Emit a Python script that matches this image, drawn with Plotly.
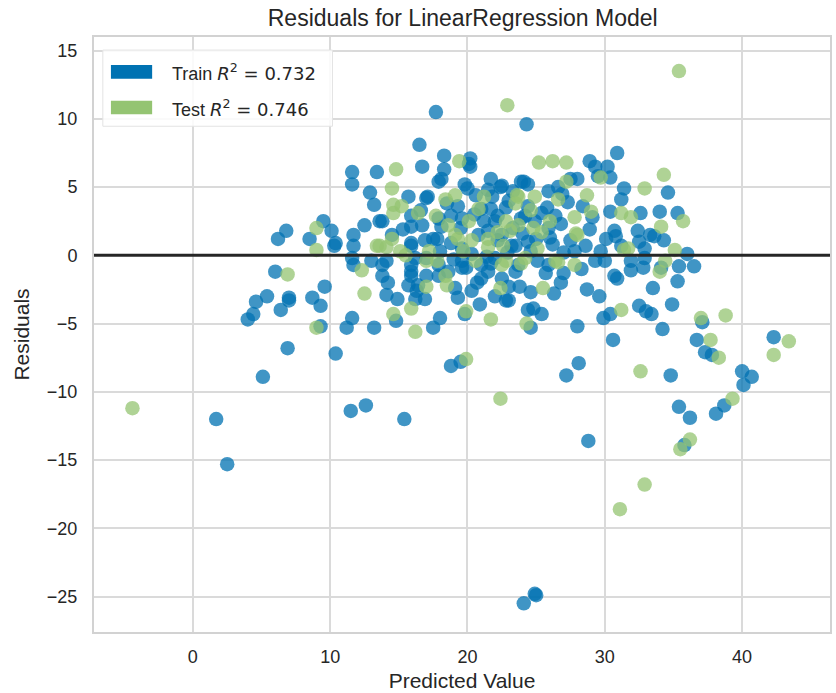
import plotly.graph_objects as go

# ---- data ----
train_pred = [1.7, 2.5, 5.1, 11.5, 12.6, 15.4, 6.8, 6.2, 9.5, 10.1, 8.5, 10.3, 6.0, 9.6, 5.4, 4.6, 7.0, 7.0, 8.7, 9.3,
              6.4, 4.4, 4.0, 9.3, 6.9, 10.4, 17.7, 24.3, 16.5, 18.3, 16.7, 18.3, 20.2, 20.2, 11.6, 13.4, 11.6, 17.9, 12.9, 15.7,
              17.1, 13.2, 12.5, 13.6, 10.4, 11.7, 11.7, 14.5, 15.9, 16.6, 17.8, 15.9, 13.8, 30.9, 28.9, 29.3, 30.2, 30.4, 27.5, 24.1,
              22.5, 31.4, 31.2, 34.6, 29.1, 30.4, 32.6, 34.0, 35.3, 30.7, 32.4, 33.3, 34.3, 30.1, 27.5, 28.6, 36.0, 36.5, 35.4, 32.9,
              30.7, 31.9, 29.3, 25.9, 35.3, 33.5, 34.9, 32.5, 33.0, 33.4, 34.2, 37.1, 36.7, 37.3, 37.8, 40.0, 40.7, 40.1, 42.3, 38.7,
              38.1, 35.4, 36.2, 35.8, 34.8, 30.6, 29.9, 30.4, 29.6, 28.7, 28.0, 28.1, 27.2, 28.8, 30.9, 34.1, 24.8, 25.4, 24.6, 23.8,
              24.6, 22.8, 30.0, 24.9, 25.0, 24.1, 18.8, 19.5, 11.6, 11.2, 13.2, 14.8, 17.5, 18.0, 19.8, 14.1, 14.9, 16.2, 16.9, 19.3,
              20.3, 20.9, 23.0, 21.0, 22.5, 15.9, 15.7, 16.4, 11.7, 13.8, 13.0, 24.4, 20.1, 18.1, 21.7, 22.4, 23.9, 17.0, 20.6, 21.0,
              21.7, 19.3, 18.8, 13.8, 15.9, 16.7, 18.1, 21.2, 22.2, 24.2, 24.9, 17.5, 15.9, 18.8, 19.6, 20.8, 22.2, 23.2, 24.4, 24.6,
              14.1, 15.9, 17.9, 19.9, 21.7, 23.7, 29.5, 28.0, 24.4, 25.9, 26.6, 27.3, 28.4, 24.4, 25.4, 26.4, 26.8, 25.9, 30.8, 32.5,
              33.6, 31.2, 32.9, 25.1, 31.9, 32.8, 25.7, 17.9, 19.6, 22.0, 23.9, 22.5, 23.5, 17.0, 19.6, 21.0, 15.9, 17.9, 11.6, 16.2,
              17.0, 16.3, 21.5, 23.5, 23.0, 19.1, 19.6, 22.0, 26.0, 27.0, 28.3, 26.8, 21.5, 23.0, 19.8,
              18.5, 19.5, 20.5, 21.5, 22.8, 23.3, 24.0, 25.0, 26.2, 27.8, 18.0, 19.0, 20.3, 21.4, 22.9, 20.0, 21.8, 23.3, 25.8, 26.9,
              28.9, 29.7, 27.0, 18.6, 16.9, 15.3, 14.2, 20.7, 22.0, 26.3]
train_resid = [-12.0, -15.3, -8.9, -11.4, -11.0, -12.0, 1.8, 1.2, 2.5, 1.8, 1.2, 0.7, -1.2, -2.3, -3.0, -3.4, -3.1, -3.3, -3.1, -3.7,
               -4.0, -4.3, -4.7, -5.2, -6.8, -7.2, 10.5, 9.6, 8.1, 7.3, 6.5, 6.3, 7.1, 6.5, 6.1, 6.1, 5.2, 5.4, 4.6, 4.3,
               4.3, 3.7, 2.2, 2.5, 0.9, 1.5, 0.7, 1.5, 2.9, 3.3, 1.2, 0.9, -1.5, 7.5, 6.9, 6.5, 6.5, 5.7, 5.6, 5.4,
               5.1, 4.9, 4.1, 4.6, 2.8, 3.2, 3.1, 3.2, 3.1, 1.8, 1.8, 1.5, 1.1, 1.2, 1.1, 0.7, 0.1, -0.8, -0.8, -0.2,
               -1.5, -1.1, -0.4, -0.7, -1.9, -2.4, -3.6, -3.7, -4.1, -4.3, -5.4, -4.9, -6.2, -7.1, -7.3, -8.5, -8.9, -9.5, -6.0, -11.0,
               -11.6, -11.1, -11.9, -13.9, -8.8, -6.2, -4.6, -4.3, -3.0, -2.5, -5.2, -7.9, -8.8, -13.6, -1.7, -0.9, -3.9, -4.3, -5.3, -2.3,
               -2.7, -3.3, -0.4, -24.8, -24.9, -25.5, -8.1, -7.8, -4.6, -5.3, -5.3, -4.8, -5.3, -4.6, -4.3, -2.9, -3.2, -3.2, -3.2, -3.1,
               -2.6, -3.6, -3.3, -1.7, -1.7, -1.5, -2.2, -2.2, -0.7, -0.7, -0.4, -4.0, 6.7, 5.6, 5.6, 5.0, 5.4, 4.2, 4.4, 3.4,
               3.4, 3.6, 2.9, 2.5, 2.1, 2.2, 2.1, 2.5, 2.9, 2.9, 2.5, 1.2, 0.7, 0.9, 0.5, 1.5, 1.1, 0.7, 1.0, 0.3,
               -0.4, -0.7, -0.7, -0.9, -0.6, -0.7, 5.8, 5.6, 5.2, 4.7, 5.0, 3.9, 3.6, 3.6, 3.1, 2.9, 2.3, 2.0, 1.4, 1.0,
               1.4, 0.7, 0.5, -0.4, -0.4, -0.9, -1.3, 2.7, 2.7, 2.5, 2.7, 1.5, 0.7, -0.2, -0.4, -0.7, -1.2, -1.5, -0.2, -0.2,
               -1.5, -2.6, -1.2, -1.2, -2.3, -2.4, -0.9, -0.2, 1.3, 0.2, -1.0, -2.0, 4.8, 4.0, 5.2,
               3.8, 2.0, 3.0, 1.8, 3.5, 2.0, 1.6, 1.2, 0.8, 0.3, 0.3, -0.3, 0.1, -0.1, 0.2, 4.9, 4.3, 4.7, 3.5, 4.5,
               1.9, 0.3, -1.3, -1.2, 1.1, 1.9, -2.0, -2.0, -3.0, -2.8]

test_pred = [-4.4, 9.0, 9.0, 6.9, 9.0, 22.9, 19.4, 14.8, 14.5, 14.6, 15.2, 14.6, 13.4, 15.1, 12.3, 35.4, 25.2, 26.2, 27.2, 34.3,
             32.9, 29.7, 28.7, 23.6, 24.9, 31.2, 31.9, 34.1, 35.7, 27.9, 35.1, 31.4, 27.8, 34.0, 26.4, 43.4, 42.3, 38.8, 37.0, 37.7,
             38.3, 39.3, 36.2, 35.5, 32.9, 31.1, 32.6, 31.2, 25.5, 24.3, 22.4, 26.6, 12.5, 14.6, 15.9, 16.2, 19.9, 21.7, 19.9, 17.0,
             18.5, 22.4, 18.4, 19.1, 21.2, 23.7, 23.5, 16.4, 17.7, 20.1, 22.8, 23.7, 19.3, 20.3, 21.5, 22.2, 23.1, 21.5, 22.6, 14.5,
             14.1, 17.0, 17.8, 20.6, 22.8, 15.5, 27.2, 26.6, 27.8, 28.0, 25.4, 24.8, 25.1, 31.7, 34.4, 18.6, 19.1, 22.5, 13.6, 17.2,
             18.4, 24.2, 20.8, 24.6, 26.0, 19.7, 23.9, 29.0]
test_resid = [-11.2, 2.0, 0.4, -1.4, -5.3, 11.0, 6.9, 6.3, 4.9, 3.7, 3.6, 3.1, 0.7, 0.3, -1.1, 13.5, 6.8, 6.9, 6.8, 5.9,
              4.9, 5.7, 4.4, 4.4, 4.3, 3.1, 2.8, 2.1, 2.5, 1.6, 0.4, 0.4, -0.7, -1.2, -0.4, -6.3, -7.3, -4.4, -4.6, -6.2,
              -7.5, -10.5, -13.5, -14.2, -16.8, -18.6, -8.5, -4.0, -2.4, -5.0, -10.5, -0.5, -2.8, -4.3, -3.9, -5.6, -4.1, -4.7, -7.6, -2.3,
              -2.2, -2.4, 4.1, 4.4, 4.3, 4.3, 3.8, 3.1, 2.9, 2.5, 2.5, 2.2, 1.2, 1.1, 1.2, 1.7, 1.8, 0.6, 0.7, 1.2,
              0.6, -0.4, -0.4, -0.4, -0.4, 0.0, 5.4, 4.1, 2.8, 1.5, 1.7, 2.0, 0.5, 0.5, -0.4, 2.2, 1.5, -0.7, 0.7, 0.3,
              -1.5, -0.2, 3.4, 3.3, 2.5, 0.3, -0.6, 3.2]

train_label = "Train"
test_label = "Test"
train_r2 = 0.732
test_r2 = 0.746
x_ticks = [0, 10, 20, 30, 40]
y_ticks = [-25, -20, -15, -10, -5, 0, 5, 10, 15]

# ---- style ----
TRAIN_C = "#0072B2"
TEST_C = "#94C472"
FONT = "Liberation Sans, Arial, sans-serif"
TXT = "#262626"
GRID = "#dadada"

fig = go.Figure()
fig.add_trace(go.Scatter(x=train_pred, y=train_resid, mode="markers", name=train_label, showlegend=False,
                         marker=dict(size=14.5, color=TRAIN_C, opacity=0.75, line=dict(width=0))))
fig.add_trace(go.Scatter(x=test_pred, y=test_resid, mode="markers", name=test_label, showlegend=False,
                         marker=dict(size=14.5, color=TEST_C, opacity=0.75, line=dict(width=0))))

# horizontal zero line
fig.add_shape(type="line", xref="paper", x0=0, x1=1, yref="y", y0=0, y1=0,
              line=dict(color="#262626", width=3), layer="above")

# manual legend (rectangular patches as in the original)
fig.add_shape(type="rect", xref="paper", yref="paper", x0=0.012, x1=0.324, y0=0.850, y1=0.978,
              line=dict(color="#e3e3e3", width=1), fillcolor="rgba(255,255,255,0.85)", layer="above")
for (lab, r2, col, yc) in [(train_label, train_r2, TRAIN_C, 0.9415), (test_label, test_r2, TEST_C, 0.8815)]:
    fig.add_shape(type="rect", xref="paper", yref="paper", x0=0.023, x1=0.079, y0=yc - 0.0115, y1=yc + 0.0115,
                  line=dict(width=0), fillcolor=col, layer="above")
    fig.add_annotation(xref="paper", yref="paper", x=0.103, y=yc, xanchor="left", yanchor="middle",
                       text=f"{lab} <span style='font-family:DejaVu Sans'><i>R</i><sup>2</sup> = {r2:.3f}</span>",
                       showarrow=False, font=dict(family=FONT, size=18, color=TXT))

fig.update_layout(
    width=836, height=693,
    margin=dict(l=94, r=4, t=37, b=56),
    paper_bgcolor="white", plot_bgcolor="white",
    font=dict(family=FONT, color=TXT),
    title=dict(text="Residuals for LinearRegression Model", x=0.5535, xanchor="center",
               y=0.974, yref="container", yanchor="middle", font=dict(size=23, color=TXT)),
)
fig.update_xaxes(range=[-7.2, 46.4], tickvals=x_ticks, showgrid=True, gridcolor=GRID, gridwidth=1.5,
                 showline=True, mirror=True, linecolor="#d2d2d2", linewidth=2, zeroline=False,
                 ticks="outside", ticklen=7, tickcolor="rgba(0,0,0,0)", tickfont=dict(size=18, color=TXT),
                 title=dict(text="Predicted Value", font=dict(size=21, color=TXT), standoff=8))
fig.update_yaxes(range=[-27.6, 16.0], tickvals=y_ticks, showgrid=True, gridcolor=GRID, gridwidth=1.5,
                 showline=True, mirror=True, linecolor="#d2d2d2", linewidth=2, zeroline=False,
                 ticks="outside", ticklen=11, tickcolor="rgba(0,0,0,0)", tickfont=dict(size=18, color=TXT),
                 title=dict(text="Residuals", font=dict(size=21, color=TXT), standoff=12))

fig.write_html("out.html")
